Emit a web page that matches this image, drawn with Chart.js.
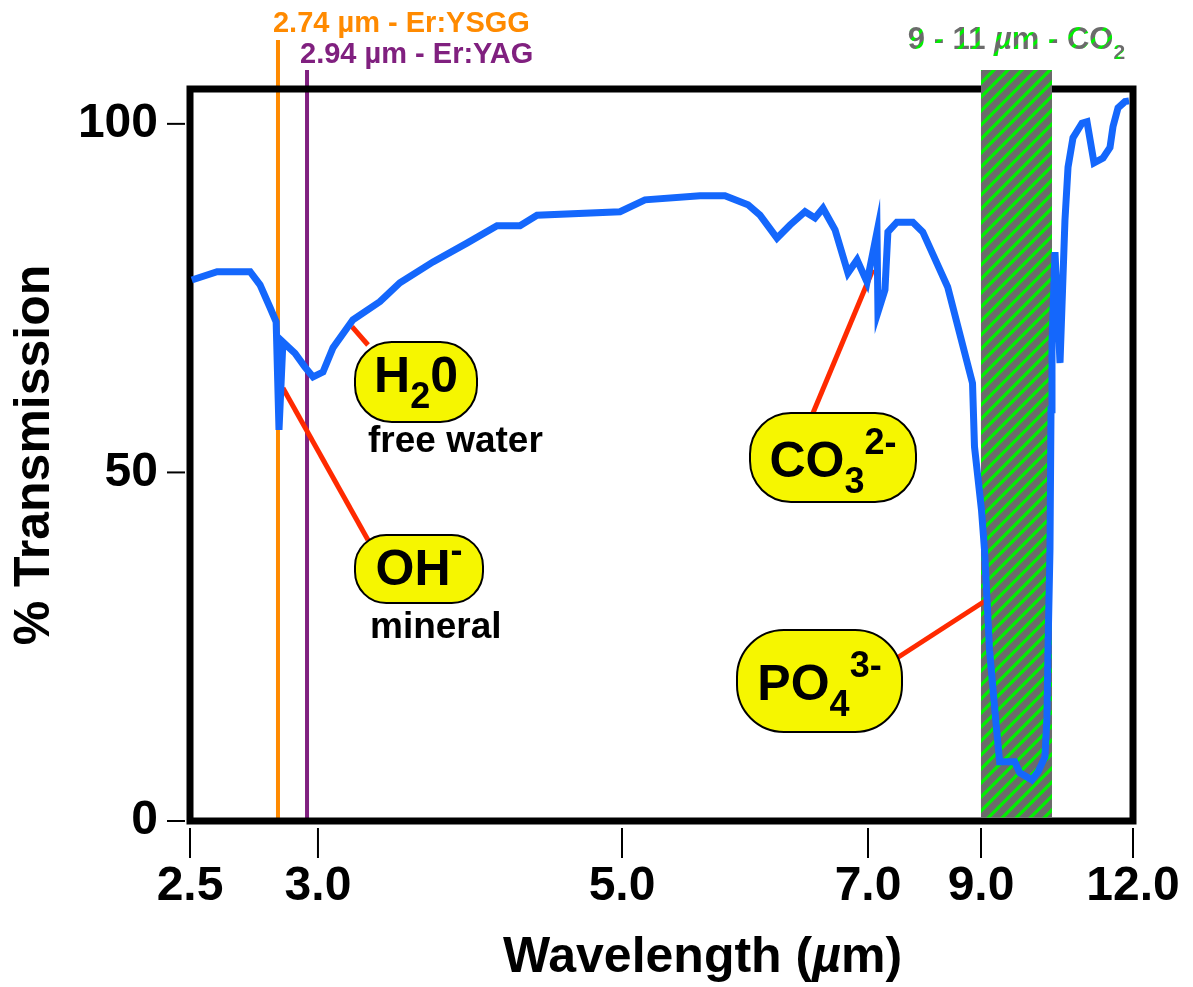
<!DOCTYPE html>
<html>
<head>
<meta charset="utf-8">
<script src="https://cdn.jsdelivr.net/npm/chart.js@4.4.1/dist/chart.umd.min.js"></script>
<style>
  html, body { margin: 0; padding: 0; background: #fff; }
  #wrap { width: 1193px; height: 987px; position: relative; }
</style>
</head>
<body>
<div id="wrap"><canvas id="irChart"></canvas></div>
<script>
// ---- data ----
var wavelength = [
  2.505, 2.574, 2.664, 2.691, 2.718, 2.735, 2.747, 2.774, 2.857, 2.926,
  2.973, 3.033, 3.099, 3.230, 3.408, 3.539, 3.757, 3.980, 4.178, 4.329,
  4.441, 4.987, 5.187, 5.634, 5.837, 6.024, 6.122, 6.260, 6.366, 6.488,
  6.569, 6.634, 6.732, 6.837, 6.911, 6.992, 7.159, 7.176, 7.300, 7.352,
  7.511, 7.793, 7.969, 8.410, 8.850, 8.885, 9.014, 9.099, 9.241, 9.440,
  9.525, 9.950, 10.092, 10.433, 10.603, 10.801, 10.858, 10.887, 10.943, 10.972,
  11.000, 11.037, 11.099, 11.160, 11.198, 11.259, 11.370, 11.432, 11.519, 11.630,
  11.716, 11.753, 11.815, 11.901, 11.951
];
var transmission = [
  77.6, 78.8, 78.8, 76.9, 73.7, 71.6, 56.1, 68.7, 67.1, 65.1,
  63.7, 64.4, 67.9, 71.9, 74.5, 77.2, 80.2, 82.9, 85.4, 85.4,
  86.9, 87.4, 89.1, 89.7, 89.7, 88.4, 86.9, 83.6, 85.5, 87.4,
  86.5, 87.9, 84.8, 78.6, 80.5, 77.3, 84.5, 73.0, 76.2, 84.5,
  85.9, 85.9, 84.5, 76.6, 62.8, 53.7, 44.6, 38.9, 24.5, 13.1,
  8.5, 8.5, 6.9, 5.9, 7.0, 9.2, 14.9, 24.5, 38.9, 59.0,
  68.6, 81.6, 65.7, 86.2, 93.8, 98.0, 100.1, 100.3, 94.4, 95.1,
  96.6, 99.6, 102.3, 103.2, 103.3
];
var xTicks = [2.5, 3.0, 5.0, 7.0, 9.0, 12.0];
var yTicks = [0, 50, 100];

var laserWavelengths = [2.74, 2.94];
var laserLabels = ['2.74 \u00b5m - Er:YSGG', '2.94 \u00b5m - Er:YAG'];
var co2Band = [9, 11];

// absorption bands: label parts and the spot on the spectrum they point at
var bandNames = [
  [['H', 'n'], ['2', 'sub'], ['0', 'n']],
  [['OH', 'n'], ['-', 'sup']],
  [['CO', 'n'], ['3', 'sub'], ['2-', 'sup']],
  [['PO', 'n'], ['4', 'sub'], ['3-', 'sup']]
];
var bandNotes = ['free water', 'mineral', '', ''];
var bandPointX = [3.224, 2.774, 7.088, 9.156];
var bandPointY = [70.9, 62.1, 79.1, 31.7];

// ---- look ----
var FAMILY = '"Liberation Sans", Arial, Helvetica, sans-serif';
var BLUE = '#1467fc';
var ORANGE = '#ff8a00';
var PURPLE = '#80207f';
var RED = '#ff2a00';
var YELLOW = '#f6f600';

// the printed wavelength axis is not linear: break values and where they sit (0..1)
var axisBreakVal = [2.5, 2.74, 2.94, 3.0, 5.0, 7.0, 9.0, 11.0, 12.0];
var axisBreakPos = [0, 0.0933, 0.1241, 0.1357, 0.4581, 0.7190, 0.8388, 0.9141, 1];

function interp(v, from, to) {
  if (v <= from[0]) return to[0] + (v - from[0]) * (to[1] - to[0]) / (from[1] - from[0]);
  for (var i = 1; i < from.length; i++) {
    if (v <= from[i]) {
      return to[i - 1] + (v - from[i - 1]) * (to[i] - to[i - 1]) / (from[i] - from[i - 1]);
    }
  }
  var n = from.length - 1;
  return to[n] + (v - from[n]) * (to[n] - to[n - 1]) / (from[n] - from[n - 1]);
}

class WarpScale extends Chart.LinearScale {
  getPixelForValue(value) {
    if (value === null || value === undefined) return NaN;
    return this.getPixelForDecimal(interp(value, axisBreakVal, axisBreakPos));
  }
  getValueForPixel(pixel) {
    return interp(this.getDecimalForPixel(pixel), axisBreakPos, axisBreakVal);
  }
}
WarpScale.id = 'warp';
WarpScale.defaults = Chart.LinearScale.defaults;
Chart.register(WarpScale);

// box layout of the callouts (pixels)
var calloutBoxes = [
  { x: 355, y: 342, w: 122, h: 80, base: 392, note: [368, 452] },
  { x: 355, y: 535, w: 128, h: 68, base: 585, note: [370, 638] },
  { x: 750, y: 413, w: 166, h: 89, base: 477 },
  { x: 737, y: 630, w: 165, h: 102, base: 700 }
];
var calloutAnchor = [[368, 345], [368, 540], [813, 413], [897, 658]];

function hatch(ctx) {
  var c = document.createElement('canvas');
  c.width = 14; c.height = 14;
  var g = c.getContext('2d');
  g.fillStyle = '#6b6b6b';
  g.fillRect(0, 0, 14, 14);
  g.strokeStyle = '#00f000';
  g.lineWidth = 3.2;
  g.beginPath();
  g.moveTo(-2, 16); g.lineTo(16, -2);
  g.moveTo(-9, 9); g.lineTo(9, -9);
  g.moveTo(5, 23); g.lineTo(23, 5);
  g.stroke();
  return ctx.createPattern(c, 'repeat');
}

function richText(ctx, parts, cx, baseline, big, small, align) {
  var w = 0;
  parts.forEach(function (p) {
    ctx.font = (p[2] ? 'italic ' : '') + 'bold ' + (p[1] === 'n' ? big : small) + 'px ' + FAMILY;
    w += ctx.measureText(p[0]).width;
  });
  var x = align === 'left' ? cx : cx - w / 2;
  ctx.textAlign = 'left';
  ctx.textBaseline = 'alphabetic';
  parts.forEach(function (p) {
    var size = p[1] === 'n' ? big : small;
    ctx.font = (p[2] ? 'italic ' : '') + 'bold ' + size + 'px ' + FAMILY;
    var dy = p[1] === 'sub' ? big * 0.32 : (p[1] === 'sup' ? -big * 0.46 : 0);
    ctx.fillText(p[0], x, baseline + dy);
    x += ctx.measureText(p[0]).width;
  });
}

var decorPlugin = {
  id: 'decor',
  beforeDraw: function (chart) {
    var ctx = chart.ctx;
    ctx.save();
    ctx.fillStyle = '#fff';
    ctx.fillRect(0, 0, chart.width, chart.height);
    ctx.restore();
  },
  beforeDatasetsDraw: function (chart) {
    var ctx = chart.ctx, a = chart.chartArea;
    var xs = chart.scales.x, ys = chart.scales.y;
    ctx.save();

    // laser lines
    var laserColors = [ORANGE, PURPLE];
    var laserTop = [40, 70];
    laserWavelengths.forEach(function (wl, i) {
      var px = xs.getPixelForValue(wl);
      ctx.strokeStyle = laserColors[i];
      ctx.lineWidth = 4;
      ctx.beginPath();
      ctx.moveTo(px, laserTop[i]);
      ctx.lineTo(px, a.bottom);
      ctx.stroke();
    });

    // frame
    ctx.strokeStyle = '#000';
    ctx.lineWidth = 7;
    ctx.strokeRect(a.left, a.top, a.right - a.left, a.bottom - a.top);

    // CO2 laser band
    var pat = hatch(ctx);
    chart.$hatch = pat;
    var b0 = xs.getPixelForValue(co2Band[0]), b1 = xs.getPixelForValue(co2Band[1]);
    ctx.fillStyle = pat;
    ctx.fillRect(b0, 70, b1 - b0, a.bottom - 3.5 - 70);

    // leader lines
    ctx.strokeStyle = RED;
    ctx.lineWidth = 5;
    bandPointX.forEach(function (wx, i) {
      ctx.beginPath();
      ctx.moveTo(xs.getPixelForValue(wx), ys.getPixelForValue(bandPointY[i]));
      ctx.lineTo(calloutAnchor[i][0], calloutAnchor[i][1]);
      ctx.stroke();
    });
    ctx.restore();
  },
  afterDatasetsDraw: function (chart) {
    var ctx = chart.ctx, a = chart.chartArea;
    var xs = chart.scales.x, ys = chart.scales.y;
    ctx.save();

    // tick marks, set off from the frame
    ctx.strokeStyle = '#000';
    ctx.lineWidth = 2;
    ys.ticks.forEach(function (t) {
      var py = ys.getPixelForValue(t.value);
      ctx.beginPath(); ctx.moveTo(167, py); ctx.lineTo(185, py); ctx.stroke();
    });
    xs.ticks.forEach(function (t) {
      var px = xs.getPixelForValue(t.value);
      ctx.beginPath(); ctx.moveTo(px, a.bottom + 7); ctx.lineTo(px, a.bottom + 37); ctx.stroke();
    });

    // callouts
    bandNames.forEach(function (parts, i) {
      var bx = calloutBoxes[i];
      ctx.beginPath();
      ctx.roundRect(bx.x, bx.y, bx.w, bx.h, bx.h * 0.46);
      ctx.fillStyle = YELLOW;
      ctx.fill();
      ctx.strokeStyle = '#000';
      ctx.lineWidth = 2;
      ctx.stroke();
      ctx.fillStyle = '#000';
      richText(ctx, parts, bx.x + bx.w / 2, bx.base, 50, 36);
      if (bandNotes[i]) {
        ctx.font = 'bold 37px ' + FAMILY;
        ctx.textAlign = 'left';
        ctx.fillText(bandNotes[i], bx.note[0], bx.note[1]);
      }
    });

    // laser labels
    ctx.font = 'bold 29px ' + FAMILY;
    ctx.textAlign = 'left';
    ctx.textBaseline = 'alphabetic';
    ctx.fillStyle = ORANGE;
    ctx.fillText(laserLabels[0], xs.getPixelForValue(laserWavelengths[0]) - 5, 32);
    ctx.fillStyle = PURPLE;
    ctx.fillText(laserLabels[1], xs.getPixelForValue(laserWavelengths[1]) - 7, 63);

    // CO2 band label, filled with the same hatching
    var bc = (xs.getPixelForValue(co2Band[0]) + xs.getPixelForValue(co2Band[1])) / 2;
    ctx.fillStyle = chart.$hatch;
    richText(ctx, [['9 - 11 ', 'n'], ['\u00b5', 'n', true], ['m - CO', 'n'], ['2', 'sub']],
      bc, 49, 31, 21);

    // x axis title
    ctx.fillStyle = '#000';
    richText(ctx, [['Wavelength (', 'n'], ['\u00b5', 'n', true], ['m)', 'n']],
      (a.left + a.right) / 2 + 41, 972, 50, 50);
    ctx.restore();
  }
};

new Chart(document.getElementById('irChart'), {
  type: 'line',
  data: {
    datasets: [{
      label: '% Transmission',
      data: wavelength.map(function (w, i) { return { x: w, y: transmission[i] }; }),
      borderColor: BLUE,
      borderWidth: 7,
      pointRadius: 0,
      tension: 0,
      fill: false
    }]
  },
  options: {
    responsive: true,
    maintainAspectRatio: false,
    animation: false,
    layout: { padding: { left: 0, top: 89, right: 60, bottom: 0 } },
    plugins: { legend: { display: false }, tooltip: { enabled: false } },
    scales: {
      x: {
        type: 'warp',
        min: 2.5,
        max: 12,
        afterBuildTicks: function (s) { s.ticks = xTicks.map(function (v) { return { value: v }; }); },
        afterFit: function (s) { s.height = 166; s.paddingLeft = 0; s.paddingRight = 0; },
        grid: { display: false, drawTicks: false },
        border: { display: false },
        ticks: {
          autoSkip: false,
          maxRotation: 0,
          padding: 37,
          color: '#000',
          font: { family: FAMILY, size: 48, weight: 'bold' },
          callback: function (v) { return Number(v).toFixed(1); }
        }
      },
      y: {
        min: 0,
        max: 105,
        afterBuildTicks: function (s) { s.ticks = yTicks.map(function (v) { return { value: v }; }); },
        afterFit: function (s) { s.width = 190; s.paddingTop = 0; s.paddingBottom = 0; },
        grid: { display: false, drawTicks: false },
        border: { display: false },
        title: {
          display: true,
          text: '% Transmission',
          color: '#000',
          padding: { top: 5, bottom: 0 },
          font: { family: FAMILY, size: 50, weight: 'bold' }
        },
        ticks: {
          padding: 32,
          color: '#000',
          font: { family: FAMILY, size: 48, weight: 'bold' },
          callback: function (v) { return String(v); }
        }
      }
    }
  },
  plugins: [decorPlugin]
});
</script>
</body>
</html>
